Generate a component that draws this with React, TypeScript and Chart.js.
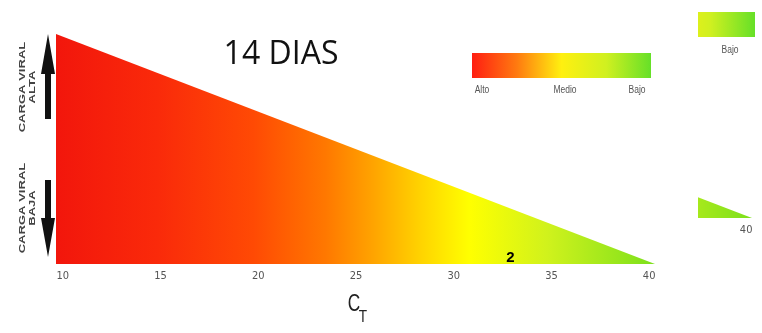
import React, { useEffect, useRef } from "react";
import { Chart, registerables } from "chart.js";

Chart.register(...registerables);

// ---- data ----
const ctRange = [9.65, 40.3];
const viralLoad = [100, 0];
const tickValues = [10, 15, 20, 25, 30, 35, 40];
const legendLabels = ["Alto", "Medio", "Bajo"];
const titleText = "14 DIAS";
const sideTop = ["CARGA VIRAL", "ALTA"];
const sideBottom = ["CARGA VIRAL", "BAJA"];
const markerCt = 32.9;
const markerText = "2";
const axisMain = "C";
const axisSub = "T";

const fillStops: [number, string][] = [
  [0, "#f2160c"],
  [0.17, "#fa2a0a"],
  [0.33, "#ff4a04"],
  [0.45, "#ff7800"],
  [0.53, "#ffa400"],
  [0.61, "#ffd400"],
  [0.69, "#ffff00"],
  [0.82, "#d0f21c"],
  [1, "#7ce01c"],
];
const legendStops: [number, string][] = [
  [0, "#ff1e12"],
  [0.25, "#ff7a10"],
  [0.5, "#fff010"],
  [0.75, "#d0f020"],
  [1, "#66e028"],
];

const NARROW = '"Liberation Sans Narrow", "DejaVu Sans Condensed", "Arial Narrow", sans-serif';

type ExtraOpts = {
  main: boolean;
  barLeft: number;
  barRight: number;
  barTop: number;
  barH: number;
  labelX: number[];
  labelY: number;
};

function drawArrow(ctx: CanvasRenderingContext2D, x: number, tip: number, base: number, end: number) {
  ctx.beginPath();
  ctx.moveTo(x, tip);
  ctx.lineTo(x - 7, base);
  ctx.lineTo(x - 3, base);
  ctx.lineTo(x - 3, end);
  ctx.lineTo(x + 3, end);
  ctx.lineTo(x + 3, base);
  ctx.lineTo(x + 7, base);
  ctx.closePath();
  ctx.fill();
}

function drawSide(ctx: CanvasRenderingContext2D, lines: string[], cy: number) {
  const xs = [23, 33];
  lines.forEach((t, i) => {
    ctx.save();
    ctx.translate(xs[i], cy);
    ctx.rotate(-Math.PI / 2);
    ctx.scale(1.45, 1);
    ctx.font = 'bold 9px "Liberation Sans", Arial, sans-serif';
    ctx.fillStyle = "#444";
    ctx.textAlign = "center";
    ctx.textBaseline = "middle";
    ctx.fillText(t, 0, 0);
    ctx.restore();
  });
}

function narrowText(ctx: CanvasRenderingContext2D, t: string, x: number, y: number, font: string, sx: number) {
  ctx.save();
  ctx.translate(x, y);
  ctx.scale(sx, 1);
  ctx.font = font;
  ctx.fillText(t, 0, 0);
  ctx.restore();
}

const extrasPlugin = {
  id: "extras",
  afterDraw(chart: any, _args: any, o: ExtraOpts) {
    const ctx: CanvasRenderingContext2D = chart.ctx;
    const xs = chart.scales.x;
    ctx.save();
    // legend bar
    const g = ctx.createLinearGradient(o.barLeft, 0, o.barRight, 0);
    legendStops.forEach(([p, c]) => g.addColorStop(p, c));
    ctx.fillStyle = g;
    ctx.fillRect(o.barLeft, o.barTop, o.barRight - o.barLeft, o.barH);
    ctx.fillStyle = "#555";
    ctx.textAlign = "center";
    ctx.textBaseline = "middle";
    legendLabels.forEach((t, i) =>
      narrowText(ctx, t, o.labelX[i], o.labelY, '10px "Liberation Sans", Arial, sans-serif', 0.85)
    );

    if (o.main) {
      // title
      ctx.font = '32px "Open Sans", sans-serif';
      ctx.fillStyle = "#111";
      ctx.textAlign = "center";
      ctx.textBaseline = "middle";
      ctx.fillText(titleText, 281, 55);

      // marker label
      ctx.font = 'bold 15px "Liberation Sans", Arial, sans-serif';
      ctx.fillStyle = "#000";
      ctx.fillText(markerText, xs.getPixelForValue(markerCt), 258);

      // axis title C_T
      ctx.fillStyle = "#222";
      narrowText(ctx, axisMain, 354, 305, '23px "Liberation Sans", Arial, sans-serif', 0.75);
      narrowText(ctx, axisSub, 363, 317, '17px "Liberation Sans", Arial, sans-serif', 0.8);

      // side arrows
      ctx.fillStyle = "#111";
      drawArrow(ctx, 48, 34, 74, 119);
      drawArrow(ctx, 48, 257, 218, 180);
      drawSide(ctx, sideTop, 87);
      drawSide(ctx, sideBottom, 208);
    }
    ctx.restore();
  },
};

function makeConfig(extra: ExtraOpts): any {
  return {
    type: "line",
    data: {
      datasets: [
        {
          data: ctRange.map((x, i) => ({ x, y: viralLoad[i] })),
          borderWidth: 0,
          borderColor: "rgba(0,0,0,0)",
          pointRadius: 0,
          fill: "origin",
          tension: 0,
          backgroundColor: (c: any) => {
            const area = c.chart.chartArea;
            if (!area) return "#f80";
            const gr = c.chart.ctx.createLinearGradient(area.left, 0, area.right, 0);
            fillStops.forEach(([p, col]) => gr.addColorStop(p, col));
            return gr;
          },
        },
      ],
    },
    options: {
      responsive: false,
      animation: false,
      devicePixelRatio: 1,
      layout: { padding: { left: 56, right: 43, top: 34, bottom: 0 } },
      scales: {
        x: {
          type: "linear",
          min: ctRange[0],
          max: ctRange[1],
          grid: { display: false, drawTicks: false },
          border: { display: false },
          afterBuildTicks: (s: any) => {
            s.ticks = tickValues.map((v) => ({ value: v }));
          },
          afterFit: (s: any) => {
            s.height = 69;
          },
          ticks: {
            padding: 6,
            color: "#555",
            font: { family: NARROW, size: 11 },
            maxRotation: 0,
            autoSkip: false,
          },
        },
        y: { display: false, min: 0, max: 100 },
      },
      plugins: {
        legend: { display: false },
        tooltip: { enabled: false },
        extras: extra,
      },
    },
    plugins: [extrasPlugin],
  };
}

export default function App() {
  const mainRef = useRef<HTMLCanvasElement>(null);
  const sideRef = useRef<HTMLCanvasElement>(null);
  useEffect(() => {
    document.body.style.margin = "0";
    const c1 = new Chart(
      mainRef.current!,
      makeConfig({
        main: true,
        barLeft: 472,
        barRight: 651,
        barTop: 53,
        barH: 25,
        labelX: [482, 565, 637],
        labelY: 90,
      })
    );
    const c2 = new Chart(
      sideRef.current!,
      makeConfig({
        main: false,
        barLeft: 479,
        barRight: 658,
        barTop: 58,
        barH: 25,
        labelX: [489, 572, 633],
        labelY: 96,
      })
    );
    return () => {
      c1.destroy();
      c2.destroy();
    };
  }, []);
  return (
    <div style={{ position: "relative", width: 762, height: 333, background: "#fff", overflow: "hidden" }}>
      <div style={{ position: "absolute", left: 0, top: 0, width: 698, height: 333 }}>
        <canvas ref={mainRef} width={698} height={333} style={{ width: 698, height: 333, display: "block" }} />
      </div>
      <div style={{ position: "absolute", left: 698, top: 0, width: 64, height: 333, overflow: "hidden" }}>
        <div style={{ position: "absolute", left: -601, top: -46, width: 698, height: 333 }}>
          <canvas ref={sideRef} width={698} height={333} style={{ width: 698, height: 333, display: "block" }} />
        </div>
      </div>
    </div>
  );
}
